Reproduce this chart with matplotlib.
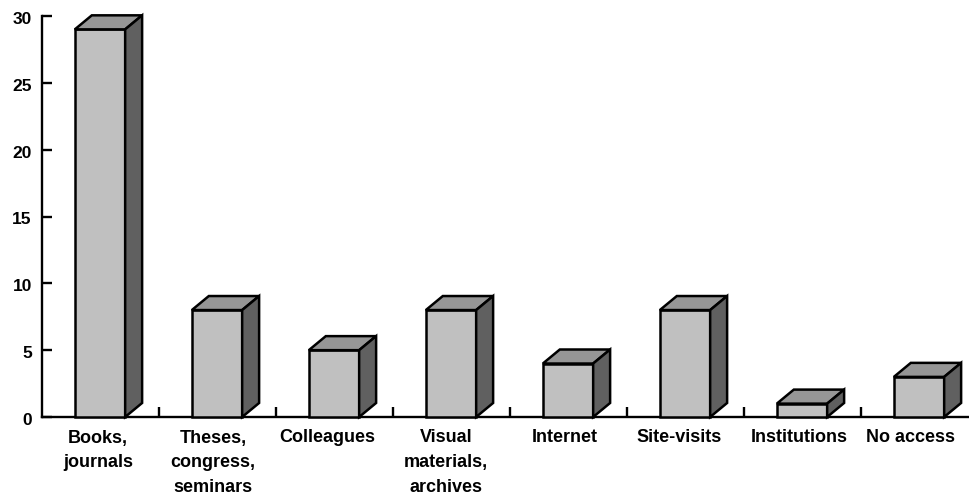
import matplotlib
matplotlib.use('Agg')
import matplotlib.pyplot as plt
from matplotlib.patches import Polygon
from matplotlib.transforms import ScaledTranslation
import numpy as np

categories = ['Books,\njournals', 'Theses,\ncongress,\nseminars', 'Colleagues',
              'Visual\nmaterials,\narchives', 'Internet', 'Site-visits',
              'Institutions', 'No access']
counts = [29, 8, 5, 8, 4, 8, 1, 3]
y_ticks = [0, 5, 10, 15, 20, 25, 30]
label_shift = [-2, -4, -7, -5, -3, -6, -3, -8]

FRONT = '#c0c0c0'
TOP = '#969696'
SIDE = '#606060'
bar_width = 0.43
depth_x = 0.145
depth_y = 1.05

plt.rcParams['font.family'] = ['Liberation Sans', 'DejaVu Sans']
plt.rcParams['font.weight'] = 'bold'

W, H = 969, 495
fig = plt.figure(figsize=(W / 100, H / 100), dpi=100)
# axis runs off the right edge of the figure
ax = fig.add_axes([41.5 / W, (H - 417) / H, 936 / W, 401 / H])
ax.set_xlim(-0.5, 7.5)
ax.set_ylim(0, 30)


def draw_bar(x, h):
    l = x - bar_width / 2
    r = x + bar_width / 2
    faces = [
        ([(l, 0), (r, 0), (r, h), (l, h)], FRONT),
        ([(l, h), (r, h), (r + depth_x, h + depth_y), (l + depth_x, h + depth_y)], TOP),
        ([(r, 0), (r + depth_x, depth_y), (r + depth_x, h + depth_y), (r, h)], SIDE),
    ]
    for pts, col in faces:
        ax.add_patch(Polygon(pts, closed=True, facecolor=col, edgecolor='black',
                             linewidth=1.8, joinstyle='miter', clip_on=False, zorder=3))


for i, c in enumerate(counts):
    draw_bar(i, c)

for s in ['top', 'right']:
    ax.spines[s].set_visible(False)
for s in ['left', 'bottom']:
    ax.spines[s].set_linewidth(1.7)

ax.set_yticks(y_ticks)
ax.tick_params(axis='y', direction='in', length=7, width=1.7, pad=7, labelsize=12.5)
ax.set_xticks(np.arange(0.5, 7.5))
ax.tick_params(axis='x', direction='in', length=7, width=1.7, labelbottom=False)

# y labels sit slightly below their ticks
nudge = ScaledTranslation(0, -2 / 100, fig.dpi_scale_trans)
for t in ax.get_yticklabels():
    t.set_transform(t.get_transform() + nudge)

for i, lab in enumerate(categories):
    ax.annotate(lab, xy=(i, 0), xycoords=('data', 'axes fraction'),
                xytext=(label_shift[i] * 0.72, -9),
                textcoords='offset points', ha='center', va='top', fontsize=13,
                fontweight='bold', linespacing=1.58, annotation_clip=False)

fig.savefig('out.png', dpi=100)
